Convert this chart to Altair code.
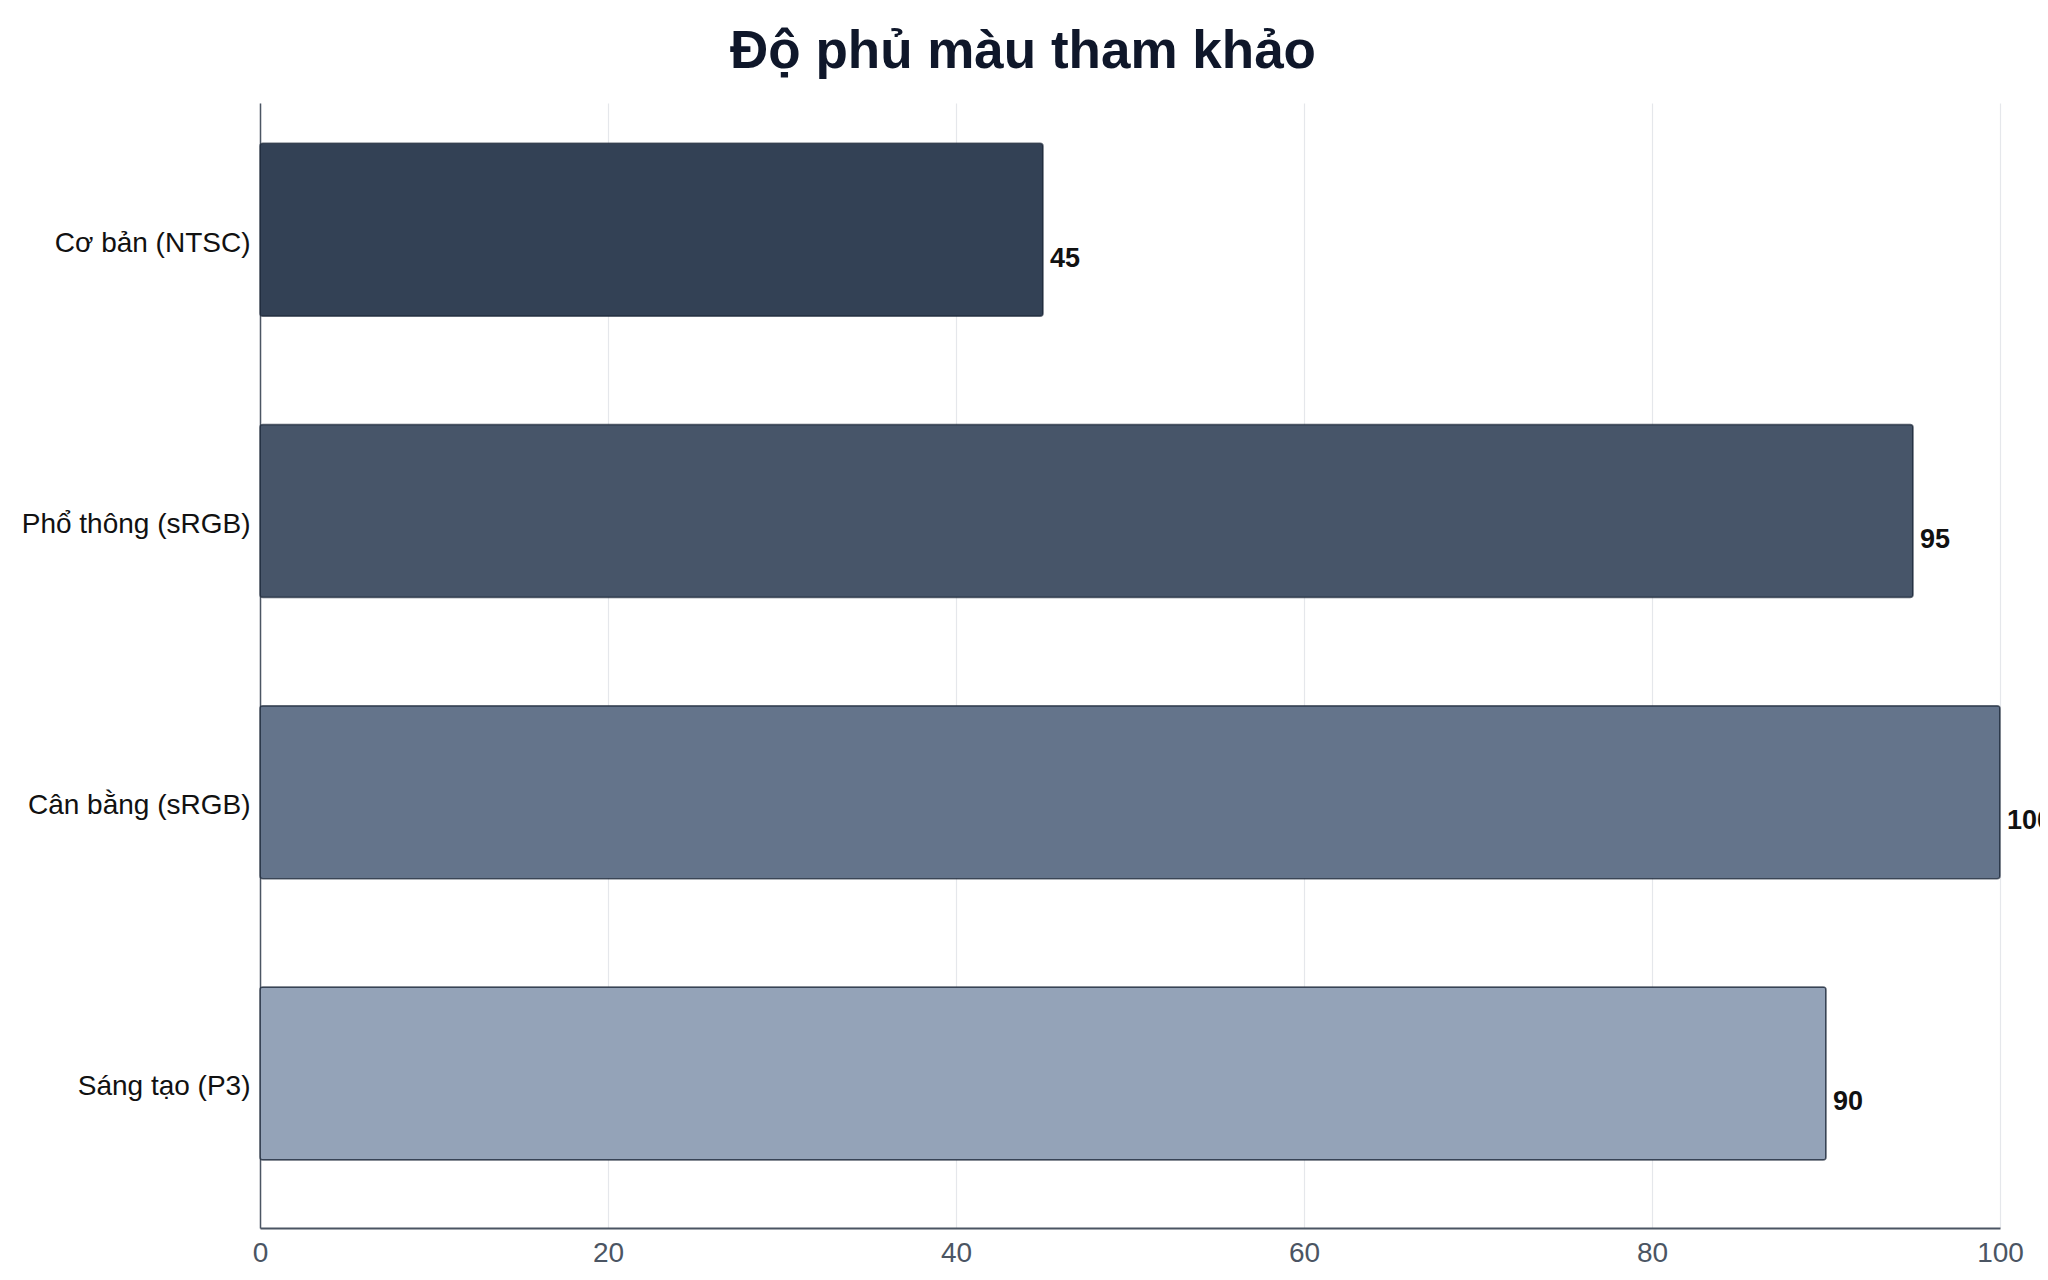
import altair as alt
import pandas as pd

categories = ["Cơ bản (NTSC)", "Phổ thông (sRGB)", "Cân bằng (sRGB)", "Sáng tạo (P3)"]
values = [45, 95, 100, 90]
colors = ["#334155", "#475569", "#64748b", "#94a3b8"]
x_ticks = [0, 20, 40, 60, 80, 100]

df = pd.DataFrame({"cat": categories, "val": values, "color": colors})

y_enc = alt.Y("cat:N", sort=categories, title=None,
              scale=alt.Scale(paddingInner=0, paddingOuter=0),
              axis=alt.Axis(labelFontSize=28, labelColor="#111111", labelFont="Liberation Sans",
                            labelPadding=10, labelLimit=500, ticks=False, domain=True,
                            domainColor="#4b5563", domainWidth=1.5, grid=False))
x_enc = alt.X("val:Q", title=None, scale=alt.Scale(domain=[0, 100], nice=False),
              axis=alt.Axis(values=x_ticks, labelFontSize=28, labelColor="#4b5563",
                            labelFont="Liberation Sans", labelPadding=11, ticks=False,
                            domainColor="#4b5563", domainWidth=2, gridColor="#e5e7eb",
                            gridWidth=1.2, labelFlush=False))

bars = alt.Chart(df).mark_bar(size=173, yOffset=-14, cornerRadius=3, stroke="#1e293b",
                              strokeOpacity=0.7, strokeWidth=1.5).encode(
    y=y_enc, x=x_enc, color=alt.Color("color:N", scale=None))

labels = alt.Chart(df).mark_text(align="left", baseline="middle", dx=7, dy=15,
                                 fontSize=27, fontWeight="bold", font="Liberation Sans",
                                 color="#111111").encode(
    y=alt.Y("cat:N", sort=categories), x="val:Q", text="val:Q")

chart = (bars + labels).properties(
    width=1740, height=1125,
    title=alt.TitleParams("Độ phủ màu tham khảo", fontSize=53, font="Liberation Sans",
                          fontWeight="bold", color="#0f172a", anchor="middle",
                          baseline="alphabetic", offset=-18, dx=-107),
    padding={"left": 252, "top": 95, "right": 40, "bottom": 40},
    autosize=alt.AutoSizeParams(type="none"),
).configure(background="white").configure_view(stroke=None)

chart.save("out.html", embed_options={"renderer": "svg", "actions": False})
